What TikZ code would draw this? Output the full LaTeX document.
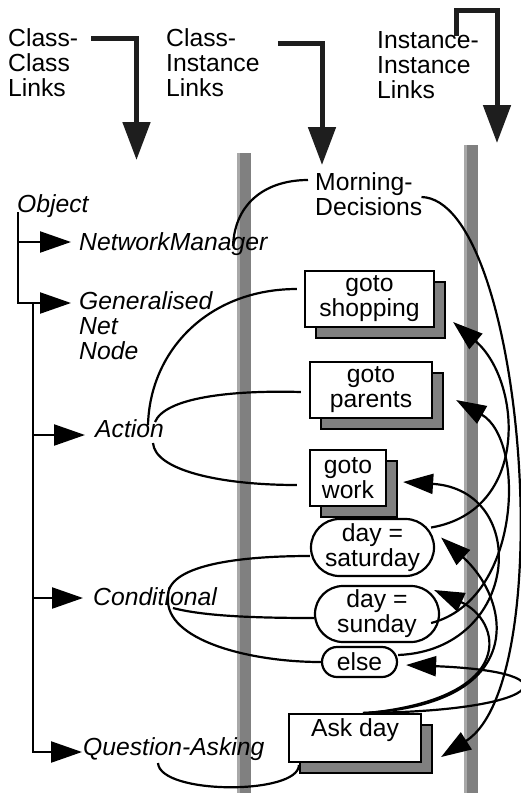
\documentclass[tikz,border=0pt]{standalone}
\usepackage{fontspec}
\setmainfont{Liberation Sans}
\usetikzlibrary{arrows.meta,shapes.misc,shadows}
\definecolor{bargray}{HTML}{808080}
\definecolor{barlight}{HTML}{A8A8A8}
\definecolor{inkblack}{HTML}{1E1E1E}

\begin{document}
\begin{tikzpicture}[x=1pt,y=-1pt,
  font=\fontsize{24.7}{25}\selectfont,
  every node/.style={inner sep=0pt},
  head/.style={align=left,anchor=north west},
  cls/.style={font=\fontsize{24.7}{25}\selectfont\itshape,anchor=base west},
  bigarrow/.style={line width=5pt,draw=inkblack,-{Triangle[length=38pt,width=27pt]}},
  tree/.style={line width=2.3pt,-{Triangle[length=31pt,width=21pt]}},
  link/.style={line width=2.2pt},
  ilink/.style={line width=2.2pt,-{Triangle[length=30pt,width=20pt]}},
  inst/.style={draw,fill=white,line width=2.2pt,align=center,
    general shadow={fill=bargray,draw=black,line width=2.2pt,shadow xshift=11pt,shadow yshift=-11pt}},
  cond/.style={draw,fill=white,line width=2.2pt,align=center,rounded rectangle}]
\useasboundingbox (0,0) rectangle (521,793);

% the two link columns
\fill[bargray] (237,153) rectangle (251,793);
\fill[barlight] (237,153) rectangle (239.5,793);
\fill[bargray] (464,145) rectangle (478,793);
\fill[barlight] (464,145) rectangle (466.5,793);

% column headings
\node[head] (cc) at (8,28) {Class-\\Class\\Links};
\node[head] (ci) at (166,28) {Class-\\Instance\\Links};
\node[head] (ii) at (377,31) {Instance-\\Instance\\Links};

\coordinate (cctip) at (136.5,160);
\coordinate (citip) at (322,165);
\coordinate (iicorner) at (497,10);
\coordinate (iitip) at (497,143);
\draw[bigarrow] ([shift={(13pt,-10pt)}]cc.north east) -| (cctip);
\draw[bigarrow] ([shift={(18pt,-15pt)}]ci.north east) -| (citip);
\draw[bigarrow] ([shift={(79pt,-5pt)}]ii.north west) |- (iicorner) -- (iitip);

% class hierarchy
\node[cls] (obj) at (17,212) {Object};
\node[cls] (nm) at (79,250) {NetworkManager};
\node[cls,align=left,anchor=north west] (gnn) at (79,291) {Generalised\\Net\\Node};
\node[cls] (act) at (95,437) {Action};
\node[cls] (cnd) at (93,605) {Conditional};
\node[cls] (qa) at (83,755) {Question-Asking};

\coordinate (split) at (33,303);
\draw[tree] ([xshift=1pt]obj.base west) |- ([shift={(-8pt,8pt)}]nm.base west);
\draw[tree] ([xshift=1pt]obj.base west) |- ([shift={(-8pt,-12pt)}]gnn.north west);
\draw[tree] (split) |- ([shift={(-10pt,2pt)}]act.base west);
\draw[tree] (split) |- ([shift={(-10pt,7pt)}]cnd.base west);
\draw[tree] (split) |- ([shift={(-1pt,3pt)}]qa.base west);

% instances
\node[head] (md) at (315,172) {Morning-\\Decisions};
\node[inst,minimum width=129pt,minimum height=56pt] (shop) at (369.5,299) {goto\\shopping};
\node[inst,minimum width=122pt,minimum height=56pt] (par) at (371,390) {goto\\parents};
\node[inst,minimum width=76pt,minimum height=56pt] (work) at (348,478) {goto\\work};
\node[cond,minimum width=123pt,minimum height=57pt] (sat) at (372.5,547.5) {day =\\saturday};
\node[cond,minimum width=124pt,minimum height=56pt] (sun) at (377,614) {day =\\sunday};
\node[cond,minimum width=75pt,minimum height=30pt] (els) at (359.5,662) {else};
\node[inst,minimum width=132pt,minimum height=48pt,text height=22pt,text depth=26pt] (ask) at (355,738) {Ask day};

% class-instance links
\draw[link] ([shift={(154pt,4pt)}]nm.base west) .. controls +(2,-45) and +(-40,0) .. ([shift={(-7pt,-8pt)}]md.north west);
\draw[link] ([shift={(53pt,12pt)}]act.base west) .. controls +(2,-75) and +(-88,0) .. ([shift={(-7pt,10pt)}]shop.west);
\draw[link] ([shift={(60pt,15pt)}]act.base west) .. controls +(10,-24) and +(-72,-2) .. ([shift={(-8pt,-2pt)}]par.west);
\draw[link] ([shift={(58pt,-6pt)}]act.base west) .. controls +(2,27) and +(-78,0) .. ([shift={(-12pt,-7pt)}]work.west);
\draw[link] ([shift={(75pt,7pt)}]cnd.base west) .. controls +(-3,-33) and +(-71,0) .. ([yshift=-8.5pt]sat.west);
\draw[link] ([shift={(75pt,7pt)}]cnd.base west) .. controls +(-3,42) and +(-72,0) .. (els.west);
\draw[link] ([shift={(80pt,-3pt)}]cnd.base west) .. controls +(30,8) and +(-60,0) .. ([yshift=-4pt]sun.west);
\draw[link] ([shift={(75pt,-8pt)}]qa.base west) .. controls +(2,32) and +(0,30) .. ([shift={(11pt,-27pt)}]ask.west);

% instance-instance links
\draw[ilink] ([shift={(-1pt,-25pt)}]md.north east) .. controls +(102,3) and +(120,-77) .. ([shift={(19pt,-19pt)}]ask.east);
\draw[ilink] ([shift={(-4pt,20pt)}]sat.east) .. controls +(100,-17) and +(68,58) .. ([shift={(18pt,-23pt)}]shop.east);
\draw[ilink] ([shift={(-9pt,-9pt)}]sun.east) .. controls +(90,-23) and +(70,40) .. ([shift={(23pt,-10pt)}]par.east);
\draw[ilink] ([yshift=7pt]els.east) .. controls +(122,-5) and +(128,8) .. ([shift={(16pt,-4pt)}]work.east);
\draw[ilink] ([xshift=8pt]ask.north) .. controls +(167,-8) and +(70,63) .. ([shift={(6pt,10pt)}]sat.east);
\draw[ilink] ([xshift=14pt]ask.north) .. controls +(151,-16) and +(67,30) .. ([shift={(-6pt,24pt)}]sun.east);
\draw[ilink] ([xshift=8pt]ask.north) .. controls +(177,-1) and +(175,7) .. ([shift={(8pt,-3pt)}]els.east);
\end{tikzpicture}
\end{document}
